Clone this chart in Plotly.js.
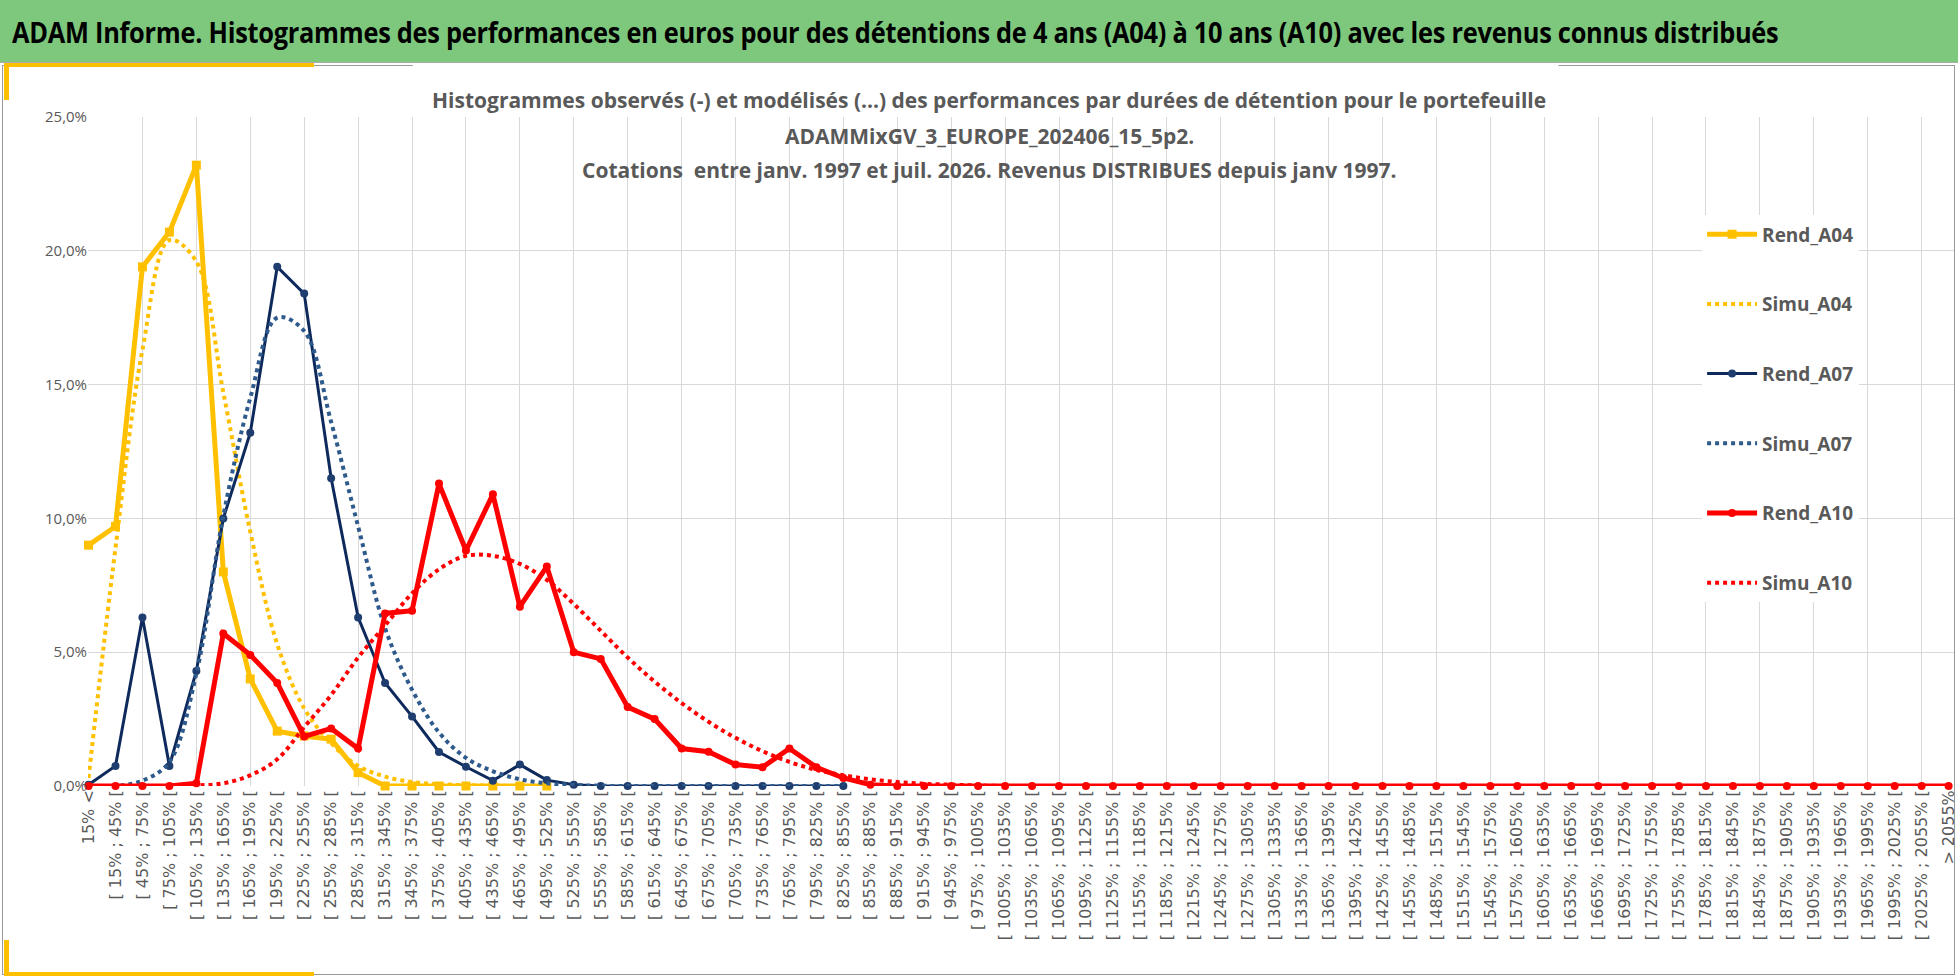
<!DOCTYPE html>
<html><head><meta charset="utf-8">
<script src="https://cdn.plot.ly/plotly-3.0.1.min.js"></script>
<style>
body{margin:0;width:1958px;height:979px;overflow:hidden;background:#fff;font-family:"Open Sans",sans-serif;}
#hdr{position:absolute;left:0;top:0;width:1958px;height:63px;background:#7DC87D;border-bottom:1px solid #aaa;box-sizing:border-box;}
#hdr span{position:absolute;left:12px;top:12px;font-size:29px;font-weight:bold;color:#000;white-space:nowrap;transform:scaleX(0.875);transform-origin:left center;letter-spacing:-0.3px;}
#frame{position:absolute;left:2px;top:65px;width:1953px;height:910px;border:1px solid #999;box-sizing:border-box;}
#chart{position:absolute;left:0;top:63px;width:1958px;height:916px;}
.y{position:absolute;background:#FFC000;}
</style></head><body>
<div id="hdr"><span>ADAM Informe. Histogrammes des performances en euros pour des détentions de 4 ans (A04) à 10 ans (A10) avec les revenus connus distribués</span></div>
<div id="frame"></div>
<div id="chart"></div>
<div class="y" style="left:4px;top:63px;width:310px;height:4px"></div>
<div class="y" style="left:4px;top:63px;width:5px;height:37px"></div>
<div class="y" style="left:4px;top:940px;width:5px;height:36px"></div>
<div class="y" style="left:4px;top:972px;width:310px;height:4px"></div>
<script>
// categories
const categories = ["15% <"];
for (let lo = 15; lo < 2055; lo += 30) categories.push("[ " + lo + "% ; " + (lo + 30) + "% [");
categories.push("> 2055%");
const idx = categories.map((c, i) => i);
const N = categories.length;
function pad(arr, len, fill){ const a = arr.slice(); while (a.length < len) a.push(fill); return a; }

const rendA04 = pad([9.0,9.7,19.4,20.7,23.2,8.0,4.0,2.05,1.87,1.75,0.5,0,0,0,0,0,0,0], N, null);
const simuA04 = pad([0.3,8.9,16.3,20.4,19.6,14.7,9.5,5.3,2.9,1.6,0.75,0.35,0.15,0.07,0.03,0.01,0,0], N, null);
const rendA07 = pad([0.05,0.75,6.3,0.75,4.3,10.0,13.2,19.4,18.4,11.5,6.3,3.85,2.6,1.27,0.72,0.2,0.8,0.22,0.05,0,0,0,0,0,0,0,0,0,0], N, null);
const simuA07 = pad([0,0,0.2,0.9,4.2,10.1,14.5,17.5,17.0,13.6,9.7,5.9,3.6,2.0,1.05,0.55,0.25,0.1,0.04,0.01,0,0,0,0,0,0,0,0,0], N, null);
const rendA10 = pad([0,0,0,0,0.1,5.7,4.9,3.85,1.85,2.15,1.4,6.45,6.55,11.3,8.8,10.9,6.7,8.2,5.0,4.75,2.95,2.5,1.4,1.28,0.8,0.7,1.4,0.7,0.3,0.05], N, 0);
const simuA10 = pad([0,0,0,0,0.02,0.1,0.4,1.0,2.2,3.4,4.8,6.0,7.2,8.1,8.6,8.6,8.3,7.7,6.8,5.8,4.8,3.9,3.1,2.4,1.8,1.3,0.9,0.6,0.4,0.25,0.15,0.08,0.05,0.02], N, 0);
const titleLines = [
 "Histogrammes observés (-) et modélisés (...) des performances par durées de détention pour le portefeuille",
 "ADAMMixGV_3_EUROPE_202406_15_5p2.",
 "Cotations  entre janv. 1997 et juil. 2026. Revenus DISTRIBUES depuis janv 1997."
];

const cY="#FFC000", cN="#0E2A5C", cNs="#2E5A8C", cR="#FF0000";
const traces = [
 {name:"Rend_A04", y:rendA04, line:{color:cY,width:5}, mode:"lines+markers", marker:{symbol:"square",size:9,color:cY}},
 {name:"Simu_A04", y:simuA04, line:{color:cY,width:4,dash:"dot",shape:"spline"}, mode:"lines"},
 {name:"Rend_A07", y:rendA07, line:{color:cN,width:3}, mode:"lines+markers", marker:{symbol:"circle",size:8,color:"#1F3D6E"}},
 {name:"Simu_A07", y:simuA07, line:{color:cNs,width:4,dash:"dot",shape:"spline"}, mode:"lines"},
 {name:"Rend_A10", y:rendA10, line:{color:cR,width:5}, mode:"lines+markers", marker:{symbol:"circle",size:8,color:cR}},
 {name:"Simu_A10", y:simuA10, line:{color:cR,width:4,dash:"dot",shape:"spline"}, mode:"lines"}
].map((t,i)=>Object.assign(t,{x:idx,type:"scatter",legendgroup:"g"+i,connectgaps:false,cliponaxis:false}));
traces.unshift({x:[0],y:[null],xaxis:"x2",showlegend:false,hoverinfo:"skip",type:"scatter"});

const F = '"Open Sans",sans-serif';
const tY = [1.025, 0.972, 0.921];
const R = [-0.02, N-1+0.2];
const layout = {
 width:1958, height:916, margin:{l:88,r:4,t:54,b:193},
 paper_bgcolor:"rgba(0,0,0,0)", plot_bgcolor:"rgba(0,0,0,0)",
 separators:", ",
 font:{family:F,color:"#595959"},
 xaxis:{range:R, tickvals:idx, ticktext:categories, tickangle:-90, showgrid:false, zeroline:false, automargin:false,
   tickfont:{family:"DejaVu Sans, sans-serif",size:16,color:"#595959"}, ticks:"", showline:false},
 xaxis2:{overlaying:"x", range:R, tickvals:idx.filter(i=>i%2===0), showticklabels:false, showgrid:true, gridcolor:"#d9d9d9", gridwidth:1, zeroline:false},
 yaxis:{range:[0,25], dtick:5, tickformat:".1f", ticksuffix:"%", gridcolor:"#d9d9d9", zeroline:false,
   tickfont:{family:F,size:15,color:"#595959"}, ticks:"", ticklen:8, tickcolor:"rgba(0,0,0,0)"},
 showlegend:true,
 legend:{x:0.865, y:0.853, xanchor:"left", yanchor:"top", bgcolor:"#fff", tracegroupgap:42,
   font:{family:F,size:19,color:"#595959",weight:"bold"}, itemwidth:50},
 shapes:[
  {type:"rect",xref:"paper",yref:"paper",x0:0.174,x1:0.788,y0:0.894,y1:1.1,fillcolor:"#fff",line:{width:0},layer:"below"},
  {type:"rect",xref:"paper",yref:"paper",x0:0.855,x1:0.96,y0:0.45,y1:0.9,fillcolor:"#fff",line:{width:0},layer:"below"}
 ],
 annotations: titleLines.map((t,i)=>({xref:"paper",yref:"paper",x:0.483,y:tY[i],xanchor:"center",yanchor:"middle",showarrow:false,
   font:{family:F,size:21,color:"#595959",weight:"bold"}, text:t}))
};
Plotly.newPlot("chart", traces, layout, {displayModeBar:false, staticPlot:true});
</script></body></html>
